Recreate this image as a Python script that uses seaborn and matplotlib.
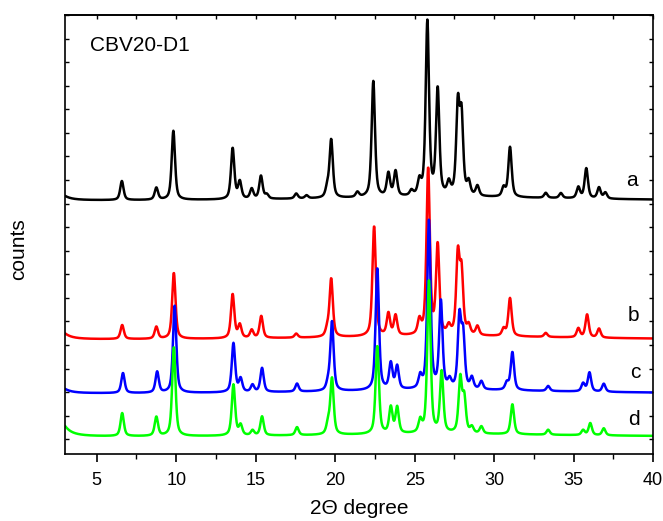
import numpy as np
import pandas as pd
import matplotlib
matplotlib.use("Agg")
import matplotlib.pyplot as plt
import seaborn as sns
from matplotlib.ticker import MultipleLocator, FixedLocator, NullFormatter

# ---- measured diffraction data -------------------------------------------
# scan range of the diffractometer (2-theta, degrees, 0.02 deg step)
two_theta = np.arange(3.0, 40.0001, 0.02)

# background level of each pattern (counts, offset for stacking)
background = {"a": 253, "b": 114, "c": 60, "d": 17}
# low-angle air-scatter tail at the start of each scan
low_angle_tail = {"a": 3, "b": 4, "c": 3, "d": 7}
# broad amorphous contribution centred near 27 deg
amorphous_hump = {"a": 4, "b": 4, "c": 4, "d": 3}

# reflection positions (2-theta) and intensities above background
a_pos = [6.58, 8.75, 9.82, 13.55, 14.0, 14.75, 15.33, 15.7, 17.55, 18.2,
         19.5, 19.75, 21.4, 22.4, 23.35, 23.8, 24.8, 25.3, 25.8, 26.45,
         27.15, 27.72, 27.95, 28.4, 28.95, 30.6, 31.0, 33.25, 34.2, 35.3,
         35.8, 36.6, 37.0]
a_int = [19, 12, 69, 51, 17, 10, 23, 4, 5, 3,
         9, 58, 5, 116, 23, 25, 5, 14, 174, 106,
         12, 88, 76, 13, 10, 9, 50, 5, 5, 11,
         30, 11, 6]

b_pos = [6.6, 8.75, 9.85, 13.55, 14.0, 14.75, 15.35, 17.55, 19.5, 19.75,
         22.45, 23.35, 23.8, 25.3, 25.85, 26.45, 27.15, 27.72, 27.95, 28.4,
         28.95, 30.6, 31.0, 33.25, 35.3, 35.85, 36.6]
b_int = [14, 12, 66, 44, 13, 8, 22, 4, 7, 58,
         110, 22, 20, 14, 166, 89, 8, 78, 60, 9,
         9, 7, 38, 4, 9, 23, 9]

c_pos = [6.65, 8.8, 9.9, 13.6, 14.05, 14.8, 15.4, 17.6, 19.55, 19.8,
         22.65, 23.5, 23.9, 25.35, 25.9, 26.65, 27.2, 27.82, 28.05, 28.6,
         29.2, 30.8, 31.15, 33.4, 35.6, 36.0, 36.9]
c_int = [20, 21, 87, 49, 13, 7, 24, 8, 7, 69,
         122, 26, 23, 12, 168, 87, 8, 70, 52, 11,
         8, 7, 38, 5, 8, 19, 8]

d_pos = [6.6, 8.75, 9.85, 13.6, 14.05, 14.8, 15.4, 17.6, 19.55, 19.8,
         22.65, 23.5, 23.9, 25.35, 25.9, 26.7, 27.87, 28.12, 28.6, 29.2,
         31.15, 33.4, 35.6, 36.05, 36.9]
d_int = [23, 19, 89, 51, 10, 5, 19, 8, 10, 56,
         88, 26, 26, 12, 152, 61, 54, 34, 6, 7,
         30, 5, 5, 12, 7]

patterns = {"a": (a_pos, a_int), "b": (b_pos, b_int),
            "c": (c_pos, c_int), "d": (d_pos, d_int)}
colors = {"a": "#000000", "b": "#ff0000", "c": "#0000ff", "d": "#00ff00"}

# instrument profile: pseudo-Voigt
FWHM = 0.25
ETA = 0.6


def pseudo_voigt(x, x0, h, w, eta):
    g = np.exp(-4 * np.log(2) * ((x - x0) / w) ** 2)
    l = 1.0 / (1.0 + (2 * (x - x0) / w) ** 2)
    return h * (eta * l + (1 - eta) * g)


def lorentz(x, x0, h, w):
    return h / (1.0 + (2 * (x - x0) / w) ** 2)


frames = []
for name, (pos, inten) in patterns.items():
    y = np.full_like(two_theta, background[name], dtype=float)
    y += lorentz(two_theta, 2.6, low_angle_tail[name] * 2.5, 1.0)
    y += lorentz(two_theta, 27.0, amorphous_hump[name], 20.0)
    for p, h in zip(pos, inten):
        y += pseudo_voigt(two_theta, p, h, FWHM, ETA)
    frames.append(pd.DataFrame({"two_theta": two_theta, "counts": y,
                                "sample": name}))
data = pd.concat(frames, ignore_index=True)

# ---- figure -----------------------------------------------------------------
sns.set_theme(style="ticks")
plt.rcParams["font.family"] = ["Liberation Sans", "DejaVu Sans"]
plt.rcParams.update({"text.color": "black", "axes.labelcolor": "black",
                     "xtick.color": "black", "ytick.color": "black",
                     "axes.edgecolor": "black"})

fig = plt.figure(figsize=(6.63, 5.21), dpi=100)
ax = fig.add_axes([0.098, 0.1286, 0.887, 0.8426])

for name in ["a", "b", "c", "d"]:
    sns.lineplot(data=data[data["sample"] == name], x="two_theta", y="counts",
                 color=colors[name], linewidth=1.8, ax=ax, legend=False)

ax.set_xlim(3, 40)
ax.set_ylim(0, 439)

ax.xaxis.set_major_locator(MultipleLocator(5))
ax.xaxis.set_minor_locator(MultipleLocator(2.5))
ax.yaxis.set_major_locator(FixedLocator(np.arange(439, 0, -23.57)))
ax.yaxis.set_major_formatter(NullFormatter())

ax.tick_params(axis="x", which="major", direction="out", length=6, width=1.2,
               labelsize=13, top=False, pad=7, color="black",
               labelcolor="black")
ax.tick_params(axis="x", which="minor", direction="out", length=3.5, width=1.0,
               top=False, color="black")
ax.tick_params(axis="y", which="major", direction="in", length=3, width=1.0,
               left=True, right=True, labelleft=False, color="black")

# inward ticks along the top edge
top = ax.secondary_xaxis("top")
top.xaxis.set_major_locator(MultipleLocator(2.5))
top.xaxis.set_major_formatter(NullFormatter())
top.tick_params(direction="in", length=3, width=1.0, color="black")
top.spines["top"].set_linewidth(1.2)

for s in ax.spines.values():
    s.set_linewidth(1.2)
    s.set_color("black")
    s.set_visible(True)

ax.set_xlabel("2\u0398 degree", fontsize=15, color="black")
ax.set_ylabel("counts", fontsize=15, color="black")
ax.xaxis.set_label_coords(0.5, -0.102)
ax.yaxis.set_label_coords(-0.063, 0.467)

ax.text(4.6, 409, "CBV20-D1", fontsize=15, ha="left", va="center",
        color="black")
label_pos = {"a": (38.66, 274), "b": (38.74, 139), "c": (38.87, 82),
             "d": (38.8, 34)}
for name, (lx, ly) in label_pos.items():
    ax.text(lx, ly, name, fontsize=15, ha="center", va="center",
            color="black")

fig.savefig("out.png", dpi=100)
